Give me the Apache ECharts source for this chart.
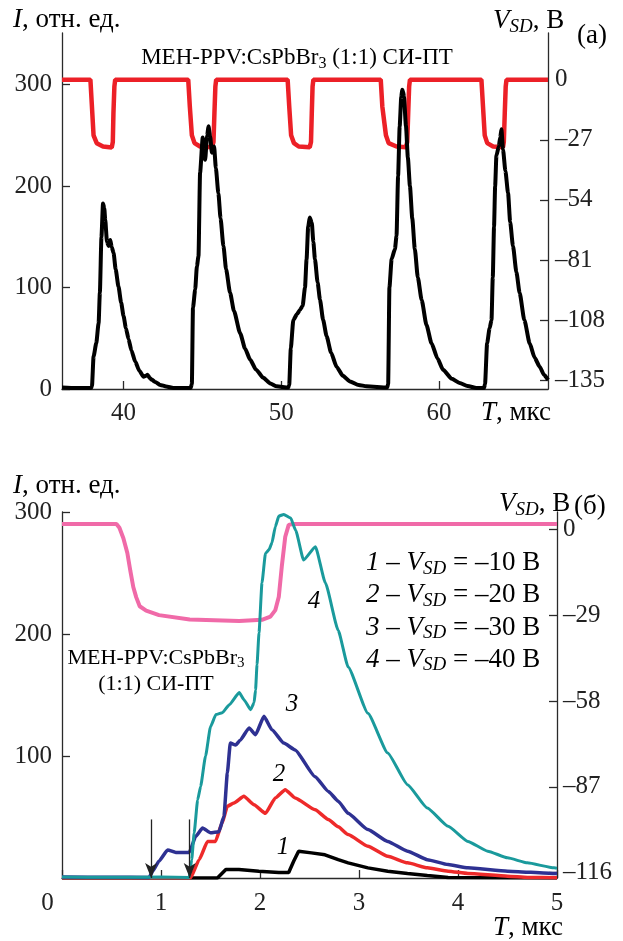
<!DOCTYPE html>
<html><head><meta charset="utf-8">
<script src="https://cdn.jsdelivr.net/npm/echarts@6/dist/echarts.min.js"></script>
<style>html,body{margin:0;padding:0;background:#fff}#c{width:623px;height:941px}</style>
</head><body><div id="c"></div>
<script>
// ---------- Panel (a) data ----------
const ticksAX = [40, 50, 60];
const ticksACur = [0, 100, 200, 300];
const ticksAVolt = [0, -27, -54, -81, -108, -135];
const currentA = [[36.1,1.5],[37.0,1],[37.95,1],[38.0,3],[38.1,32],[38.27,45],[38.42,65],[38.5,95],[38.6,150],[38.7,183],[38.78,178],[38.84,167],[38.95,145],[39.05,141],[39.16,147],[39.25,140],[39.37,134],[39.5,118],[39.68,101],[39.85,85],[40.0,72],[40.15,60],[40.32,49],[40.5,38],[40.74,27],[41.0,18],[41.27,12],[41.4,13],[41.52,14],[41.65,11],[41.8,9],[42.0,7],[42.32,4],[42.7,2.5],[43.16,1],[44.25,1],
[44.33,5],[44.4,80],[44.54,98],[44.65,121],[44.75,131],[44.85,213],[45.02,248],[45.1,235],[45.17,226],[45.3,250],[45.38,259],[45.49,249],[45.6,233],[45.74,239],[45.85,218],[46.01,193],[46.15,168],[46.33,141],[46.5,118],[46.75,95],[47.0,77],[47.39,55],[47.7,40],[48.02,29],[48.4,19],[48.86,11],[49.3,5.5],[49.71,2.6],[50.44,1.5],
[50.5,4],[50.6,40],[50.76,68],[51.0,74],[51.18,78],[51.35,82],[51.5,100],[51.6,128],[51.7,160],[51.8,169],[51.93,164],[52.03,145],[52.13,128],[52.3,105],[52.45,88],[52.65,68],[52.87,52],[53.15,36],[53.5,22],[53.9,13],[54.35,7.5],[54.9,4],[55.4,2.6],[56.71,1.5],
[56.77,5],[56.85,100],[56.99,128],[57.2,138],[57.3,151],[57.4,210],[57.5,259],[57.6,288],[57.66,295],[57.72,293],[57.77,288],[57.9,259],[58.02,228],[58.15,200],[58.3,168],[58.46,138],[58.65,110],[58.89,88],[59.2,63],[59.52,45],[59.9,30],[60.25,19],[60.8,10],[61.3,6],[61.8,3],[62.37,1],[62.85,1],
[62.91,5],[63.04,45],[63.2,60],[63.32,68],[63.4,110],[63.48,160],[63.55,200],[63.63,230],[63.78,239],[63.87,248],[63.95,256],[64.05,236],[64.2,215],[64.37,193],[64.5,165],[64.68,141],[64.9,115],[65.1,95],[65.4,68],[65.74,45],[66.05,31],[66.37,22],[66.65,14],[66.9,9]];
const voltageA = [[36.1,0],[37.9,0],[37.98,-10],[38.1,-25],[38.3,-28.5],[38.7,-30],[39.25,-30.5],[39.32,-28],[39.36,-15],[39.42,-3],[39.47,0],
[44.1,0],[44.2,-12],[44.33,-25],[44.5,-28.5],[44.85,-30],[45.6,-30.3],[45.7,-28],[45.76,-15],[45.82,-3],[45.87,0],
[50.4,0],[50.5,-12],[50.62,-25],[50.8,-28.5],[51.1,-30],[51.8,-30.3],[51.88,-28],[51.93,-15],[51.98,-3],[52.03,0],
[56.3,0],[56.4,-12],[56.63,-25],[56.8,-28.5],[57.3,-30],[57.9,-30.3],[57.98,-28],[58.04,-15],[58.1,-3],[58.15,0],
[62.68,0],[62.78,-12],[62.89,-25],[63.05,-28.5],[63.42,-30],[64.05,-30.3],[64.1,-28],[64.16,-15],[64.22,-3],[64.27,0],[66.9,0]];

// ---------- Panel (b) data ----------
const ticksBVolt = [0, -29, -58, -87, -116];
const arrowsB = [0.9, 1.29];
const arrowTopB = 48;
const voltageB = [[0,1.8],[0.55,1.8],[0.58,0.5],[0.62,-3],[0.66,-8],[0.69,-14],[0.72,-19.5],[0.75,-23],[0.785,-26],[0.85,-27.5],[0.98,-29],[1.29,-30.5],[1.79,-31],[2.02,-30.6],[2.105,-29.5],[2.155,-27.3],[2.19,-22.8],[2.22,-12.6],[2.255,-2.5],[2.29,1.5],[2.33,1.8],[5,1.8]];
const curve1 = [[0,0],[1.57,0],[1.655,7],[1.787,7],[1.988,5.6],[2.19,4.5],[2.29,4.5],[2.34,13.7],[2.39,22],[2.52,20.6],[2.656,19],[2.79,15],[2.89,12.4],[3.09,8.3],[3.29,5.6],[3.49,3.7],[3.69,2],[3.9,0.5],[5,0]];
const curve2 = [[0,0.3],[1.3,0.3],[1.385,15],[1.47,30],[1.55,30],[1.617,45],[1.67,58.8],[1.737,61.5],[1.837,67],[1.94,60],[2.055,53],[2.155,65.6],[2.255,72.4],[2.355,65.6],[2.557,56],[2.69,48],[2.79,42],[2.89,35.6],[3.09,26],[3.29,17.8],[3.49,12.4],[3.69,8.3],[3.9,5.6],[4.1,3.7],[4.5,1.5],[4.7,0.5],[5,0.3]];
const curve3 = [[0,0.8],[0.5,0.6],[0.88,0.5],[0.917,5.6],[0.98,14],[1.067,23],[1.15,21],[1.285,21],[1.35,34],[1.42,41],[1.5,37],[1.585,38],[1.636,50.6],[1.67,86],[1.7,110.6],[1.755,109],[1.8,113],[1.89,123],[1.955,117.5],[2.04,132.5],[2.12,121.5],[2.24,110.6],[2.355,105],[2.557,83],[2.69,71],[2.79,63],[2.89,53],[3.09,39.7],[3.29,30],[3.49,22],[3.69,15],[3.9,11],[4.1,8.3],[4.5,5.6],[4.97,3.7],[5,3.6]];
const curve4 = [[0,0.8],[0.5,0.6],[1.0,0.8],[1.285,0.5],[1.31,15],[1.335,37],[1.37,64],[1.4,75],[1.45,100],[1.5,124],[1.555,134],[1.62,135.5],[1.69,142],[1.79,152],[1.84,146],[1.905,138],[1.94,143.6],[1.955,154],[1.97,175],[1.99,201],[2.02,242],[2.055,266],[2.09,269],[2.12,274.5],[2.155,288],[2.19,296.7],[2.24,298],[2.31,295],[2.36,285],[2.44,260.7],[2.56,271.6],[2.66,242],[2.79,203],[2.89,173],[3.09,135],[3.29,102.5],[3.49,76.5],[3.69,57.4],[3.9,42.4],[4.1,30],[4.3,22],[4.5,16.5],[4.7,12.4],[4.97,8.3],[5,8]];
const legendB = [['1','–10'],['2','–20'],['3','–30'],['4','–40']];

const SERIF = '"Liberation Serif", "DejaVu Serif", serif';
const AX = '#2a2a2a';
const FS = 25;
const fmtNeg = v => v < 0 ? '–' + Math.abs(v) : String(v);
const baseLabel = {fontFamily: SERIF, fontSize: FS, color: '#222'};
const axLine = {show: true, lineStyle: {color: AX, width: 1.3}};
const tickIn = {show: true, inside: true, length: 8, lineStyle: {color: AX, width: 1.3}};

const richCommon = {
  r: {fontFamily: SERIF, fontSize: 27, color: '#222', lineHeight: 30},
  i: {fontFamily: SERIF, fontSize: 27, fontStyle: 'italic', color: '#222', lineHeight: 30},
  s: {fontFamily: SERIF, fontSize: 19, fontStyle: 'italic', color: '#222', lineHeight: 19, verticalAlign: 'bottom'},
  t: {fontFamily: SERIF, fontSize: 23, color: '#222', lineHeight: 27},
  ts: {fontFamily: SERIF, fontSize: 16, color: '#222', lineHeight: 16, verticalAlign: 'bottom'},
  u: {fontFamily: SERIF, fontSize: 22, color: '#222', lineHeight: 26},
  us: {fontFamily: SERIF, fontSize: 15, color: '#222', lineHeight: 15, verticalAlign: 'bottom'},
  c: {fontFamily: SERIF, fontSize: 25, fontStyle: 'italic', color: '#222', lineHeight: 28}
};
function txt(x, y, text, align) {
  return {type: 'text', x: x, y: y, style: {text: text, rich: richCommon, align: align || 'left', verticalAlign: 'middle'}};
}

const graphics = [
  txt(13, 20, '{i|I}{r|, отн. ед.}'),
  txt(493, 21, '{i|V}{s|SD}{r|, В}'),
  txt(577, 36, '{r|(а)}'),
  txt(297, 58, '{t|MEH-PPV:CsPbBr}{ts|3}{t| (1:1) СИ-ПТ}', 'center'),
  txt(481, 413, '{i|T}{r|, мкс}'),
  txt(13, 486, '{i|I}{r|, отн. ед.}'),
  txt(499, 504, '{i|V}{s|SD}{r|, В}'),
  txt(574, 507, '{r|(б)}'),
  txt(156, 658, '{u|MEH-PPV:CsPbBr}{us|3}', 'center'),
  txt(156, 684, '{u|(1:1) СИ-ПТ}', 'center'),
  txt(493, 928, '{i|T}{r|, мкс}'),
  txt(314, 601, '{c|4}', 'center'),
  txt(292, 704, '{c|3}', 'center'),
  txt(279, 774, '{c|2}', 'center'),
  txt(283, 847, '{c|1}', 'center')
];
legendB.forEach((row, k) => {
  graphics.push(txt(366, 563 + k * 32.3, '{i|' + row[0] + '}{r| – }{i|V}{s|SD}{r| = ' + row[1] + ' В}'));
});

const chart = echarts.init(document.getElementById('c'), null, {renderer: 'canvas'});
chart.setOption({
  animation: false,
  backgroundColor: '#fff',
  grid: [
    {left: 62, top: 33, width: 486, height: 356},
    {left: 62, top: 512, width: 495, height: 366}
  ],
  xAxis: [
    {type: 'value', gridIndex: 0, min: 36.1, max: 66.9, axisLine: axLine, splitLine: {show: false},
     axisTick: Object.assign({}, tickIn, {customValues: ticksAX}),
     axisLabel: Object.assign({}, baseLabel, {margin: 12, customValues: ticksAX})},
    {type: 'value', gridIndex: 1, min: 0, max: 5, interval: 1, axisLine: axLine, splitLine: {show: false},
     axisTick: tickIn,
     axisLabel: Object.assign({}, baseLabel, {margin: 13,
       formatter: v => v === 0 ? '{z|0}' : String(v),
       rich: {z: {fontFamily: SERIF, fontSize: FS, color: '#222', padding: [0, 29, 0, 0]}}})}
  ],
  yAxis: [
    {type: 'value', gridIndex: 0, position: 'left', min: 0, max: 351, axisLine: axLine,
     splitLine: {show: false}, axisTick: Object.assign({}, tickIn, {customValues: ticksACur}),
     axisLabel: Object.assign({}, baseLabel, {margin: 10, customValues: ticksACur})},
    {type: 'value', gridIndex: 0, position: 'right', min: -139, max: 21, axisLine: axLine,
     splitLine: {show: false}, axisTick: Object.assign({}, tickIn, {customValues: ticksAVolt}),
     axisLabel: Object.assign({}, baseLabel, {margin: 7, customValues: ticksAVolt, formatter: fmtNeg})},
    {type: 'value', gridIndex: 1, position: 'left', min: 0, max: 300, interval: 100, axisLine: axLine,
     splitLine: {show: false}, axisTick: tickIn, axisLabel: Object.assign({}, baseLabel, {margin: 10, showMinLabel: false})},
    {type: 'value', gridIndex: 1, position: 'right', min: -117.8, max: 5.84, axisLine: axLine,
     splitLine: {show: false}, axisTick: Object.assign({}, tickIn, {customValues: ticksBVolt}),
     axisLabel: Object.assign({}, baseLabel, {margin: 6, customValues: ticksBVolt, formatter: fmtNeg})}
  ],
  series: [
    {type: 'line', xAxisIndex: 0, yAxisIndex: 1, data: voltageA, showSymbol: false, lineStyle: {color: '#ec2027', width: 4.5}, z: 2},
    {type: 'line', xAxisIndex: 0, yAxisIndex: 0, data: currentA, showSymbol: false, smooth: 0.2, smoothMonotone: 'x', lineStyle: {color: '#000', width: 4}, z: 3},
    {type: 'line', xAxisIndex: 1, yAxisIndex: 3, data: voltageB, showSymbol: false, lineStyle: {color: '#f06aa8', width: 4}, z: 2},
    {type: 'line', xAxisIndex: 1, yAxisIndex: 2, data: curve1, showSymbol: false, lineStyle: {color: '#000', width: 3.5}, z: 3,
     markLine: {silent: true, symbol: ['none', 'arrow'], symbolSize: [9, 15], label: {show: false},
       lineStyle: {color: '#222', width: 1.3, type: 'solid'},
       data: arrowsB.map(x => [{coord: [x, arrowTopB]}, {coord: [x, 0]}])}},
    {type: 'line', xAxisIndex: 1, yAxisIndex: 2, data: curve2, showSymbol: false, smooth: 0.15, smoothMonotone: 'x', lineStyle: {color: '#ee2a2a', width: 3.5}, z: 3},
    {type: 'line', xAxisIndex: 1, yAxisIndex: 2, data: curve3, showSymbol: false, smooth: 0.15, smoothMonotone: 'x', lineStyle: {color: '#2e3192', width: 3.5}, z: 3},
    {type: 'line', xAxisIndex: 1, yAxisIndex: 2, data: curve4, showSymbol: false, smooth: 0.15, smoothMonotone: 'x', lineStyle: {color: '#1a9a9c', width: 3}, z: 3}
  ],
  graphic: graphics
});
</script>
</body></html>
